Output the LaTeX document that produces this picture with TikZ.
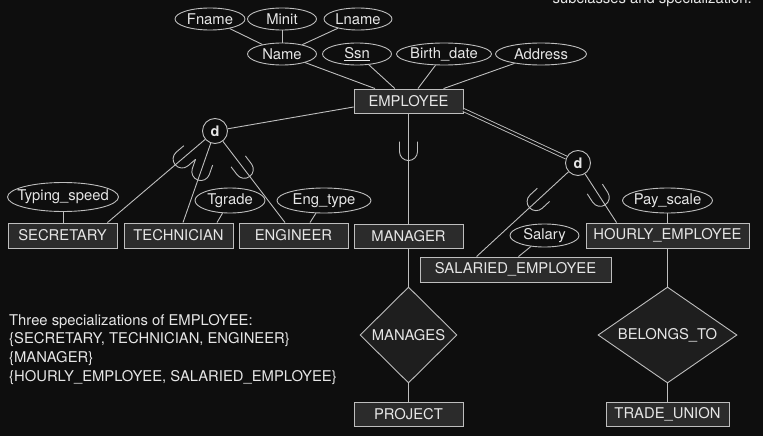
\documentclass[tikz,border=0pt]{standalone}
\usepackage{fontspec}
\setmainfont{TeX Gyre Heros}
\usetikzlibrary{shapes.geometric,calc,decorations.markings}
\definecolor{bgc}{HTML}{0E0E0E}
\definecolor{boxc}{HTML}{2B2B2B}
\definecolor{dmc}{HTML}{1E1E1E}
\definecolor{linec}{HTML}{BEBEBE}
\definecolor{txtc}{HTML}{E6E6E6}
\newcommand{\zb}[1]{\makebox[0pt]{#1}}
\begin{document}
\begin{tikzpicture}[x=1pt,y=-1pt,
  every node/.style={text=txtc, font=\fontsize{14.8}{17}\selectfont},
  ent/.style={draw=linec, fill=boxc, line width=0.9pt, minimum height=24, inner sep=0pt},
  attr/.style={ellipse, draw=linec, fill=bgc, line width=0.9pt, inner sep=0pt, minimum height=22},
  rel/.style={diamond, draw=linec, fill=dmc, line width=0.9pt, inner sep=0pt, minimum height=96},
  dc/.style={circle, draw=linec, fill=bgc, line width=0.9pt, inner sep=0pt, minimum size=25, font=\fontsize{14.5}{16}\selectfont\bfseries},
  conn/.style={draw=linec, line width=0.9pt},
  subsym/.style={postaction={decorate, decoration={markings, mark=at position #1 with {\draw[linec, line width=0.9pt] (10,9) -- (0,9) arc (90:270:9) -- (10,-9);}}}}
]
\useasboundingbox (0,0) rectangle (763,436);
\fill[bgc] (0,0) rectangle (763,436);

% attributes top
\node[attr, minimum width=70] (fname) at (210,19) {\zb{Fname}};
\node[attr, minimum width=69] (minit) at (282,19) {\zb{Minit}};
\node[attr, minimum width=68] (lname) at (358,19) {\zb{Lname}};
\node[attr, minimum width=69] (name) at (282,54) {\zb{Name}};
\node[attr, minimum width=69] (ssn) at (357,54) {\zb{\underline{Ssn}}};
\node[attr, minimum width=95] (bdate) at (444,54) {\zb{Birth\_date}};
\node[attr, minimum width=91] (addr) at (541,54) {\zb{Address}};

\node[ent, minimum width=109] (emp) at (408.5,101) {EMPLOYEE};

\node[dc] (d1) at (215,131) {d};
\node[dc] (d2) at (578,163) {d};

\node[ent, minimum width=109, minimum height=25] (sec) at (62.5,235.5) {SECRETARY};
\node[ent, minimum width=109, minimum height=25] (tech) at (178.5,235.5) {TECHNICIAN};
\node[ent, minimum width=109, minimum height=25] (eng) at (293.5,235.5) {ENGINEER};
\node[ent, minimum width=109] (mgr) at (408.5,236) {MANAGER};
\node[ent, minimum width=191, minimum height=25] (sal) at (515.5,269.5) {SALARIED\_EMPLOYEE};
\node[ent, minimum width=163, minimum height=25] (hourly) at (667.5,235.5) {HOURLY\_EMPLOYEE};

\node[attr, minimum width=111, minimum height=29] (ts) at (63,197) {\zb{Typing\_speed}};
\node[attr, minimum width=70, minimum height=25] (tg) at (230,200.5) {\zb{Tgrade}};
\node[attr, minimum width=94, minimum height=25] (et) at (324,200.5) {\zb{Eng\_type}};
\node[attr, minimum width=69, minimum height=23] (salary) at (544.5,235.5) {\zb{Salary}};
\node[attr, minimum width=90, minimum height=25] (pay) at (667.5,200.5) {\zb{Pay\_scale}};

\node[rel, minimum width=97] (manages) at (408.5,335) {\zb{MANAGES}};
\node[rel, minimum width=139] (belongs) at (667.5,335) {\zb{BELONGS\_TO}};
\node[ent, minimum width=109] (proj) at (408.5,414) {PROJECT};
\node[ent, minimum width=123] (tu) at (667.5,414) {TRADE\_UNION};

% connectors
\draw[conn] (fname) -- (name);
\draw[conn] (minit) -- (name);
\draw[conn] (lname) -- (name);
\draw[conn] (name) -- (emp);
\draw[conn] (ssn) -- (emp);
\draw[conn] (bdate) -- (emp);
\draw[conn] (addr) -- (emp);

\draw[conn] ($(emp.west)+(0,6)$) -- (d1);
\draw[conn, double=bgc, double distance=2.2pt] ($(emp.east)+(0,9)$) -- (d2);

\draw[conn, subsym=98pt] ($(sec.north east)+(-10,0)$) -- (d1);
\draw[conn, subsym=54pt] ($(tech.north)+(4.5,0)$) -- (d1);
\draw[conn, subsym=67pt] ($(eng.north)+(-8.5,0)$) -- (d1);
\draw[conn, subsym=72pt] (mgr) -- (emp);
\draw[conn, subsym=81pt] ($(sal.north west)+(57,0)$) -- (d2);
\draw[conn, subsym=30pt] ($(hourly.north west)+(31,0)$) -- (d2);

\draw[conn] (ts) -- (ts |- sec.north);
\draw[conn] (tg) -- ($(tech.north)+(38.5,0)$);
\draw[conn] (et) -- ($(eng.north)+(16.5,0)$);
\draw[conn] (salary) -- ($(sal.north)+(3,0)$);
\draw[conn] (pay) -- (pay |- hourly.north);

\draw[conn] (mgr) -- (manages);
\draw[conn] (manages) -- (proj);
\draw[conn] (hourly) -- (belongs);
\draw[conn] (belongs) -- (tu);

% text
\node[anchor=base west, inner sep=0pt] (t1) at (9,325) {Three specializations of EMPLOYEE:};
\node[anchor=base west, inner sep=0pt] (t2) at (9,343.5) {\{SECRETARY, TECHNICIAN, ENGINEER\}};
\node[anchor=base west, inner sep=0pt] (t3) at (9,362) {\{MANAGER\}};
\node[anchor=base west, inner sep=0pt] (t4) at (9,381) {\{HOURLY\_EMPLOYEE, SALARIED\_EMPLOYEE\}};
\node[anchor=base east, inner sep=0pt] (cap) at (752,4) {subclasses and specialization.};
\end{tikzpicture}
\end{document}
